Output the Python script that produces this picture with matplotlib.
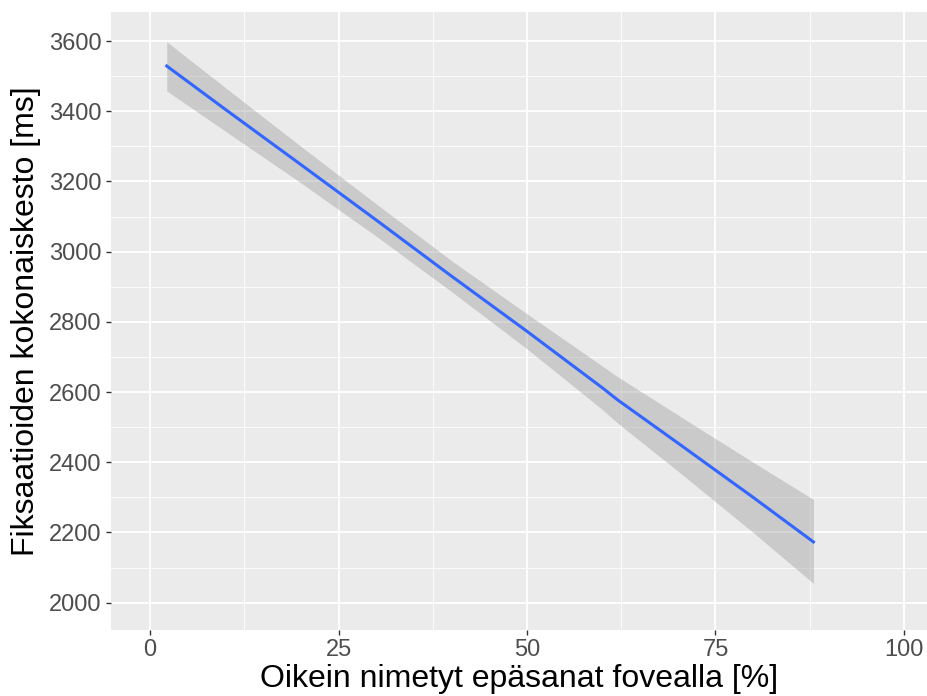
import numpy as np
import matplotlib.pyplot as plt
from matplotlib.ticker import MultipleLocator

plt.rcParams['font.family'] = ['Liberation Sans', 'DejaVu Sans']

# smoothed fit
x_fit = [2.2, 10, 20, 30, 40, 50, 60, 62, 70, 80, 88]
y_fit = [3529, 3405, 3248, 3090, 2930, 2773, 2612, 2578, 2455, 2300, 2173]
y_lo = [3458, 3343, 3196, 3044, 2886, 2723, 2550, 2512, 2375, 2200, 2055]
y_hi = [3598, 3467, 3300, 3136, 2974, 2823, 2674, 2644, 2535, 2400, 2294]

x_ticks = [0, 25, 50, 75, 100]
y_ticks = [2000, 2200, 2400, 2600, 2800, 3000, 3200, 3400, 3600]

fig = plt.figure(figsize=(9.28, 6.96), dpi=100)
ax = fig.add_axes([0.1196, 0.0948, 0.8804, 0.888])
ax.set_facecolor('#EBEBEB')

ax.fill_between(x_fit, y_lo, y_hi, color='#999999', alpha=0.4, linewidth=0, zorder=2)
ax.plot(x_fit, y_fit, color='#3366FF', linewidth=2.2, zorder=3)

ax.set_xlim(-5.2, 103.2)
ax.set_ylim(1922, 3683)
ax.set_xticks(x_ticks)
ax.set_yticks(y_ticks)
ax.xaxis.set_minor_locator(MultipleLocator(12.5))
ax.yaxis.set_minor_locator(MultipleLocator(100))

ax.grid(which='major', color='white', linewidth=1.3, zorder=1)
ax.grid(which='minor', color='white', linewidth=0.6, zorder=1)
ax.set_axisbelow(True)
for s in ax.spines.values():
    s.set_visible(False)

ax.tick_params(which='major', length=3.8, width=1.0, color='#333333',
               labelsize=17, labelcolor='#4D4D4D', pad=3)
ax.tick_params(which='minor', length=0)

ax.set_xlabel('Oikein nimetyt epäsanat fovealla [%]', fontsize=23, labelpad=2)
ax.set_ylabel('Fiksaatioiden kokonaiskesto [ms]', fontsize=23, labelpad=6)

fig.savefig('out.png', dpi=100)
